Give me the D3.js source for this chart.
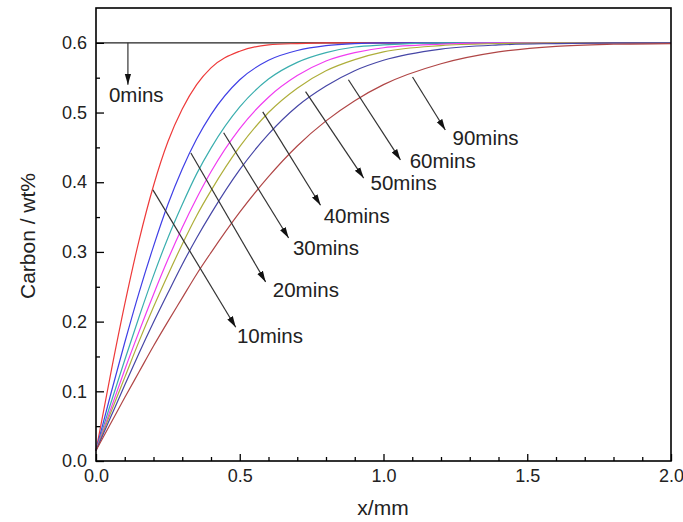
<!DOCTYPE html>
<html>
<head>
  <meta charset="utf-8">
  <title>Carbon profiles</title>
  <script src="https://d3js.org/d3.v7.min.js"></script>
  <style>
    body { margin: 0; background: #fff; }
    svg text { font-family: Arial, "Liberation Sans", sans-serif; fill: #222; }
    .axis line { stroke: #000; stroke-width: 1.3px; }
  </style>
</head>
<body>
  <svg id="chart"></svg>

  <script>
    // distance from surface (mm)
    const xs = [0, 0.05, 0.1, 0.15, 0.2, 0.25, 0.3, 0.35, 0.4, 0.5, 0.6, 0.7, 0.8, 0.9, 1.0, 1.2, 1.4, 1.6, 1.8, 2.0];

    // carbon wt% for each carburising time
    const c10 = [0.015, 0.123, 0.225, 0.317, 0.395, 0.458, 0.505, 0.540, 0.564, 0.588, 0.597, 0.599, 0.6, 0.6, 0.6, 0.6, 0.6, 0.6, 0.6, 0.6];
    const c20 = [0.015, 0.094, 0.170, 0.242, 0.308, 0.368, 0.419, 0.462, 0.497, 0.547, 0.575, 0.589, 0.596, 0.599, 0.6, 0.6, 0.6, 0.6, 0.6, 0.6];
    const c30 = [0.015, 0.081, 0.145, 0.207, 0.266, 0.320, 0.368, 0.412, 0.449, 0.508, 0.548, 0.572, 0.586, 0.594, 0.597, 0.6, 0.6, 0.6, 0.6, 0.6];
    const c40 = [0.015, 0.073, 0.131, 0.186, 0.239, 0.289, 0.335, 0.377, 0.415, 0.477, 0.522, 0.553, 0.574, 0.586, 0.593, 0.598, 0.6, 0.6, 0.6, 0.6];
    const c50 = [0.015, 0.068, 0.120, 0.172, 0.221, 0.267, 0.311, 0.352, 0.388, 0.451, 0.500, 0.535, 0.560, 0.576, 0.587, 0.596, 0.599, 0.6, 0.6, 0.6];
    const c60 = [0.015, 0.062, 0.109, 0.155, 0.199, 0.241, 0.282, 0.320, 0.355, 0.418, 0.469, 0.509, 0.538, 0.560, 0.575, 0.591, 0.597, 0.599, 0.6, 0.6];
    const c90 = [0.015, 0.053, 0.091, 0.128, 0.165, 0.200, 0.234, 0.268, 0.299, 0.357, 0.408, 0.452, 0.488, 0.517, 0.540, 0.570, 0.587, 0.595, 0.598, 0.599];

    const initialCarbon = 0.6;   // 0 mins profile

    const xTicks = [0, 0.5, 1.0, 1.5, 2.0];
    const xMinor = [0.1, 0.2, 0.3, 0.4, 0.6, 0.7, 0.8, 0.9, 1.1, 1.2, 1.3, 1.4, 1.6, 1.7, 1.8, 1.9];
    const yTicks = [0, 0.1, 0.2, 0.3, 0.4, 0.5, 0.6];
    const yMinor = [0.05, 0.15, 0.25, 0.35, 0.45, 0.55];

    const series = [c10, c20, c30, c40, c50, c60, c90];
    const colors = ["#ee3a3a", "#3f3fe6", "#3aaeae", "#f03cf0", "#aeae3a", "#4646a6", "#b04646"];

    // arrows: label, arrow start [x, c], arrow tip [x, c], label anchor [x, c]
    const notes = [
      { label: "0mins",  from: [0.111, 0.6],   to: [0.111, 0.54],  at: [0.045, 0.515] },
      { label: "10mins", from: [0.198, 0.389], to: [0.486, 0.192], at: [0.490, 0.169] },
      { label: "20mins", from: [0.330, 0.442], to: [0.590, 0.257], at: [0.615, 0.235] },
      { label: "30mins", from: [0.444, 0.471], to: [0.670, 0.320], at: [0.685, 0.296] },
      { label: "40mins", from: [0.580, 0.501], to: [0.781, 0.367], at: [0.792, 0.342] },
      { label: "50mins", from: [0.729, 0.530], to: [0.931, 0.406], at: [0.955, 0.389] },
      { label: "60mins", from: [0.878, 0.547], to: [1.059, 0.432], at: [1.091, 0.421] },
      { label: "90mins", from: [1.101, 0.551], to: [1.215, 0.475], at: [1.240, 0.454] }
    ];

    const width = 683, height = 522;
    const m = { left: 96, right: 671, top: 8, bottom: 461 };

    const svg = d3.select("#chart")
      .attr("width", width)
      .attr("height", height);

    svg.append("rect").attr("width", width).attr("height", height).attr("fill", "#fff");

    const x = d3.scaleLinear().domain([0, 2]).range([m.left, m.right]);
    const y = d3.scaleLinear().domain([0, 0.65]).range([m.bottom, m.top]);

    // arrow head
    svg.append("defs").append("marker")
      .attr("id", "head")
      .attr("markerUnits", "userSpaceOnUse")
      .attr("markerWidth", 12).attr("markerHeight", 8)
      .attr("refX", 11).attr("refY", 4)
      .attr("orient", "auto")
      .append("path")
      .attr("d", "M0,0.8 L11,4 L0,7.2 Z")
      .attr("fill", "#111");

    // 0 mins line
    svg.append("line")
      .attr("x1", x(0)).attr("x2", x(2))
      .attr("y1", y(initialCarbon)).attr("y2", y(initialCarbon))
      .attr("stroke", "#222").attr("stroke-width", 1.2);

    const line = d3.line()
      .x((d, i) => x(xs[i]))
      .y(d => y(d))
      .curve(d3.curveMonotoneX);

    svg.selectAll(".curve")
      .data(series)
      .enter()
      .append("path")
      .attr("class", "curve")
      .attr("d", line)
      .attr("fill", "none")
      .attr("stroke", (d, i) => colors[i])
      .attr("stroke-width", 1.2);

    // annotations
    const g = svg.append("g");
    g.selectAll(".arrow")
      .data(notes)
      .enter()
      .append("line")
      .attr("class", "arrow")
      .attr("x1", d => x(d.from[0])).attr("y1", d => y(d.from[1]))
      .attr("x2", d => x(d.to[0])).attr("y2", d => y(d.to[1]))
      .attr("stroke", "#333").attr("stroke-width", 1.2)
      .attr("marker-end", "url(#head)");

    g.selectAll(".note")
      .data(notes)
      .enter()
      .append("text")
      .attr("class", "note")
      .attr("x", d => x(d.at[0]))
      .attr("y", d => y(d.at[1]))
      .style("font-size", "20.5px")
      .text(d => d.label);

    // axes
    const fmt = d3.format(".1f");

    svg.append("g")
      .attr("class", "axis")
      .attr("transform", `translate(0, ${m.bottom})`)
      .call(d3.axisBottom(x).tickValues(xTicks).tickFormat(fmt).tickSize(-7).tickPadding(8));
    svg.append("g")
      .attr("class", "axis")
      .attr("transform", `translate(0, ${m.bottom})`)
      .call(d3.axisBottom(x).tickValues(xMinor).tickFormat("").tickSize(-4));

    svg.append("g")
      .attr("class", "axis")
      .attr("transform", `translate(${m.left}, 0)`)
      .call(d3.axisLeft(y).tickValues(yTicks).tickFormat(fmt).tickSize(-8).tickPadding(9));
    svg.append("g")
      .attr("class", "axis")
      .attr("transform", `translate(${m.left}, 0)`)
      .call(d3.axisLeft(y).tickValues(yMinor).tickFormat("").tickSize(-4));

    svg.selectAll(".axis .domain").remove();
    svg.selectAll(".axis text")
      .style("font-size", "18px")
      .style("fill", "#222");

    // frame
    svg.append("rect")
      .attr("x", m.left).attr("y", m.top)
      .attr("width", m.right - m.left).attr("height", m.bottom - m.top)
      .attr("fill", "none")
      .attr("stroke", "#000")
      .attr("stroke-width", 1.6);

    // axis titles
    svg.append("text")
      .attr("x", 383)
      .attr("y", 515)
      .attr("text-anchor", "middle")
      .style("font-size", "21px")
      .text("x/mm");

    svg.append("text")
      .attr("transform", `translate(35, 236) rotate(-90)`)
      .attr("text-anchor", "middle")
      .style("font-size", "21px")
      .text("Carbon / wt%");
  </script>
</body>
</html>
